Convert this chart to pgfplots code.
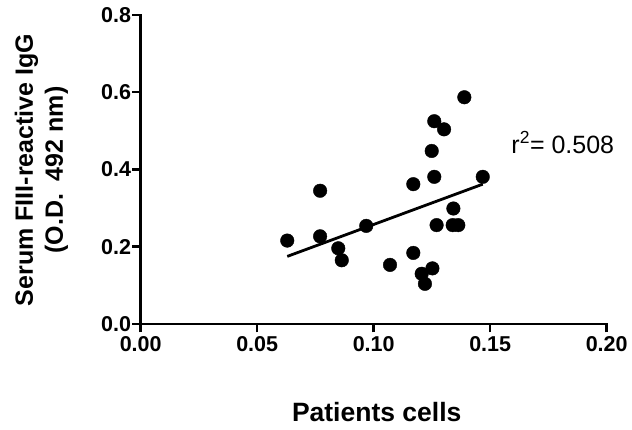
\documentclass[border=0pt]{standalone}
\usepackage{fontspec}
\setmainfont{Liberation Sans}
\usepackage{pgfplots}
\pgfplotsset{compat=1.18}
\begin{document}
\begin{tikzpicture}
\begin{axis}[
  at={(0pt,0pt)}, anchor=south west,
  scale only axis, width=466pt, height=309pt,
  xmin=0, xmax=0.2, ymin=0, ymax=0.8,
  axis x line=bottom, axis y line=left,
  axis line style={-, line width=2.8pt, line cap=rect},
  xtick={0,0.05,0.1,0.15,0.2}, ytick={0,0.2,0.4,0.6,0.8},
  minor tick num=0,
  tick align=outside, major tick length=8.5pt,
  major tick style={black, line width=2.5pt},
  /pgf/number format/assume math mode=true,
  tick label style={font=\fontsize{21.5}{25}\selectfont\bfseries},
  xticklabel style={/pgf/number format/fixed, /pgf/number format/fixed zerofill, /pgf/number format/precision=2},
  yticklabel style={/pgf/number format/fixed, /pgf/number format/fixed zerofill, /pgf/number format/precision=1, inner xsep=1pt},
  clip=false,
]
\addplot[black, line width=2.8pt, no marks] coordinates {(0.0629,0.175) (0.1468,0.362)};
\addplot[only marks, mark=*, mark size=6.8pt, mark options={fill=black, draw=black}] coordinates {
(0.0629,0.216)
(0.0770,0.345)
(0.0770,0.227)
(0.0848,0.196)
(0.0863,0.165)
(0.0968,0.254)
(0.1070,0.153)
(0.1170,0.362)
(0.1170,0.184)
(0.1206,0.130)
(0.1220,0.104)
(0.1252,0.144)
(0.1249,0.448)
(0.1260,0.525)
(0.1302,0.504)
(0.1260,0.381)
(0.1270,0.256)
(0.1342,0.299)
(0.1339,0.256)
(0.1363,0.256)
(0.1389,0.587)
(0.1468,0.381)
};
\node[anchor=base west, font=\fontsize{25}{29}\selectfont] at (axis cs:0.1576,0.4427) {r\textsuperscript{2}= 0.508};
\end{axis}
\node[anchor=base, font=\fontsize{26.5}{30}\selectfont\bfseries] at (236pt,-97.7pt) {Patients cells};
\node[rotate=90, anchor=base, font=\fontsize{25}{30}\selectfont\bfseries] at (-107.7pt,154pt) {Serum FIII-reactive IgG};
\node[rotate=90, anchor=base, font=\fontsize{25}{30}\selectfont\bfseries] at (-77.7pt,154pt) {(O.D.\hspace{0.5em}492 nm)};
\pgfresetboundingbox
\path[use as bounding box] (-140.7pt,-106pt) rectangle (491.3pt,324pt);
\end{tikzpicture}
\end{document}
